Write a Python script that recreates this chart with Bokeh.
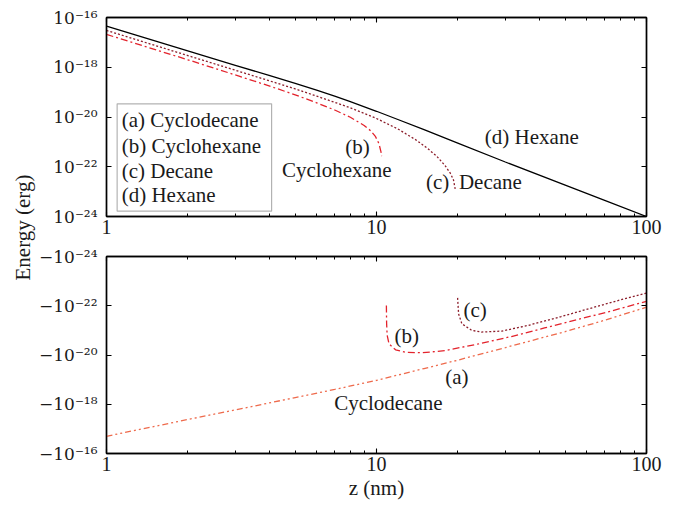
from math import pi
from bokeh.plotting import figure
from bokeh.models import Range1d, FixedTicker, LogAxis, Label, BoxAnnotation
from bokeh.layouts import row, column
from bokeh.embed import file_html
from bokeh.resources import INLINE

# ---------------- data ----------------
# z in nm, energy in erg
hex_z = [1, 2, 3, 4, 5, 6, 7, 8, 10, 12, 15, 20, 30, 50, 70, 100]
hex_E = [4.47e-17, 4.57e-18, 1.20e-18, 4.68e-19, 2.24e-19, 1.20e-19, 6.92e-20,
         4.17e-20, 1.70e-20, 7.94e-21, 3.09e-21, 8.91e-22, 1.55e-22, 1.82e-23,
         4.47e-24, 1.0e-24]

dec_top_z = [1, 2, 3, 4, 5, 6, 7, 8, 9, 10, 12, 14, 15.40, 16.76, 17.94, 18.79,
             19.28, 19.56]
dec_top_E = [3.02e-17, 2.95e-18, 7.59e-19, 2.88e-19, 1.35e-19, 6.92e-20, 3.89e-20,
             2.34e-20, 1.41e-20, 8.71e-21, 3.31e-21, 1.20e-21, 5.62e-22, 2.57e-22,
             1.12e-22, 5.37e-23, 2.95e-23, 1.29e-23]

chx_top_z = [1, 2, 3, 4, 5, 6, 7, 8, 9, 9.51, 9.92, 10.21, 10.39, 10.45]
chx_top_E = [2.09e-17, 2.00e-18, 4.90e-19, 1.78e-19, 7.76e-20, 3.72e-20, 1.91e-20,
             9.77e-21, 4.57e-21, 2.82e-21, 1.62e-21, 8.51e-22, 3.98e-22, 2.69e-22]

# negative energies (bottom panel)
chx_bot_z = [10.88, 10.90, 10.95, 11.13, 11.77, 12.82, 14.76, 17.98, 23.85, 31.6,
             41.9, 55.6, 73.7, 100]
chx_bot_E = [-9.77e-23, -5.01e-22, -1.58e-21, -3.55e-21, -6.17e-21, -7.76e-21,
             -8.13e-21, -6.61e-21, -3.55e-21, -1.78e-21, -7.94e-22, -3.63e-22,
             -1.66e-22, -6.61e-23]

dec_bot_z = [19.97, 20.14, 20.71, 22.53, 24.5, 29.1, 36.4, 48.3, 64.0, 80.2, 100]
dec_bot_E = [-4.79e-23, -2.14e-22, -5.37e-22, -1.00e-21, -1.17e-21, -1.07e-21,
             -6.31e-22, -2.75e-22, -1.15e-22, -5.75e-23, -3.09e-23]

cyd_bot_z = [1, 2, 3, 5, 7, 10, 15, 20, 30, 50, 70, 100]
cyd_bot_E = [-2.00e-17, -4.17e-18, -1.70e-18, -5.37e-19, -2.51e-19, -1.07e-19,
             -3.55e-20, -1.62e-20, -5.01e-21, -1.12e-21, -3.89e-22, -1.15e-22]

legend_labels = ["(a) Cyclodecane", "(b) Cyclohexane", "(c) Decane", "(d) Hexane"]

x_ticks = [1, 10, 100]
x_tick_labels = ["1", "10", "100"]
x_minor = [2, 3, 4, 5, 6, 7, 8, 9, 20, 30, 40, 50, 60, 70, 80, 90]
top_y_ticks = [1e-24, 1e-22, 1e-20, 1e-18, 1e-16]
top_y_labels = ["10\u207b\u00b2\u2074", "10\u207b\u00b2\u00b2", "10\u207b\u00b2\u2070",
                "10\u207b\u00b9\u2078", "10\u207b\u00b9\u2076"]
bot_y_ticks = [1e-24, 1e-22, 1e-20, 1e-18, 1e-16]
bot_y_labels = ["\u2212" + s for s in top_y_labels]

# ---------------- styles ----------------
SERIF = "Liberation Serif"
YTICKFONT = "DejaVu Serif"
TXT = "#1a1a1a"
C_HEX = "black"
C_CHX = "#e3232c"
C_DEC = "#8c1d2a"
C_CYD = "#ee6a4c"
D_CHX = "7 3 2 3"
D_DEC = "2 2"
D_CYD = "6 3 2 3 2 3"
LW = 1.3
FIG_W = 641


def style_axis(ax, font=SERIF, size="20px", tick_labels=True):
    ax.axis_line_color = "black"
    ax.axis_line_width = 1.4
    ax.major_tick_in = 5
    ax.major_tick_out = 0
    ax.minor_tick_in = 3
    ax.minor_tick_out = 0
    ax.major_tick_line_color = "black"
    ax.minor_tick_line_color = "black"
    ax.major_tick_line_width = 1.1
    ax.minor_tick_line_width = 1.0
    if tick_labels:
        ax.major_label_text_font = font
        ax.major_label_text_font_size = size
        ax.major_label_text_color = TXT
    else:
        ax.major_label_text_font_size = "1px"
        ax.major_label_text_color = None
        ax.major_label_standoff = 0


def make_panel(height, y_range, y_ticks, y_labels, border_top, border_bottom):
    p = figure(width=FIG_W, height=height, x_axis_type="log", y_axis_type="log",
               x_range=Range1d(1, 100), y_range=y_range,
               output_backend="svg", toolbar_location=None,
               min_border_left=66, min_border_right=31,
               min_border_top=border_top, min_border_bottom=border_bottom)
    p.grid.visible = False
    p.outline_line_color = "black"
    p.outline_line_width = 1.4
    p.background_fill_color = "white"
    p.border_fill_color = "white"
    xa = p.below[0]
    ya = p.left[0]
    xa.ticker = FixedTicker(ticks=x_ticks, minor_ticks=x_minor)
    xa.major_label_overrides = dict(zip(x_ticks, x_tick_labels))
    ya.ticker = FixedTicker(ticks=y_ticks, minor_ticks=[])
    ya.major_label_overrides = dict(zip(y_ticks, y_labels))
    xa.major_label_standoff = 3
    ya.major_label_standoff = 9
    style_axis(xa)
    style_axis(ya, font=YTICKFONT, size="17px")
    top_ax = LogAxis(ticker=FixedTicker(ticks=x_ticks, minor_ticks=x_minor))
    right_ax = LogAxis(ticker=FixedTicker(ticks=y_ticks, minor_ticks=[]))
    style_axis(top_ax, tick_labels=False)
    style_axis(right_ax, tick_labels=False)
    p.add_layout(top_ax, "above")
    p.add_layout(right_ax, "right")
    return p


def text(p, x, y, s, align="center"):
    p.add_layout(Label(x=x, y=y, text=s, text_align=align, text_baseline="middle",
                       text_font=SERIF, text_font_size="21px", text_color=TXT))


# ---------------- top panel ----------------
top = make_panel(245, Range1d(1e-24, 1e-16), top_y_ticks, top_y_labels, 17, 29)
top.line(hex_z, hex_E, line_color=C_HEX, line_width=LW)
top.line(dec_top_z, dec_top_E, line_color=C_DEC, line_width=LW, line_dash=D_DEC)
top.line(chx_top_z, chx_top_E, line_color=C_CHX, line_width=LW, line_dash=D_CHX)

text(top, 37.6, 1.55e-21, "(d) Hexane")
text(top, 8.51, 6.17e-22, "(b)")
text(top, 7.13, 7.08e-23, "Cyclohexane")
text(top, 16.83, 2.40e-23, "(c)")
text(top, 26.41, 2.40e-23, "Decane")

top.add_layout(BoxAnnotation(left=1.095, right=4.088, top=3.40e-20, bottom=1.63e-24,
                             fill_color="white", fill_alpha=1.0,
                             line_color="black", line_width=1.2))
for lab, ey in zip(legend_labels, [7.24e-21, 6.70e-22, 7.06e-23, 7.45e-24]):
    text(top, 1.138, ey, lab, align="left")

# ---------------- bottom panel ----------------
bot = make_panel(262, Range1d(1e-16, 1e-24), bot_y_ticks, bot_y_labels, 11, 54)
xb = bot.below[0]
xb.axis_label = "z (nm)"
xb.axis_label_text_font = SERIF
xb.axis_label_text_font_size = "21px"
xb.axis_label_text_font_style = "normal"
xb.axis_label_text_color = TXT
xb.axis_label_standoff = 2

bot.line(cyd_bot_z, [-e for e in cyd_bot_E], line_color=C_CYD, line_width=LW, line_dash=D_CYD)
bot.line(chx_bot_z, [-e for e in chx_bot_E], line_color=C_CHX, line_width=LW, line_dash=D_CHX)
bot.line(dec_bot_z, [-e for e in dec_bot_E], line_color=C_DEC, line_width=LW, line_dash=D_DEC)

text(bot, 23.2, 1.55e-22, "(c)")
text(bot, 12.95, 1.62e-21, "(b)")
text(bot, 19.85, 7.94e-20, "(a)")
text(bot, 11.07, 8.71e-19, "Cyclodecane")

# ---------------- shared y label ----------------
lab = figure(width=36, height=507, x_range=Range1d(0, 36), y_range=Range1d(0, 507),
             output_backend="svg", toolbar_location=None,
             min_border_left=0, min_border_right=0, min_border_top=0, min_border_bottom=0)
lab.axis.visible = False
lab.grid.visible = False
lab.outline_line_color = None
lab.add_layout(Label(x=22, y=280, text="Energy (erg)", angle=pi / 2,
                     text_align="center", text_baseline="middle",
                     text_font=SERIF, text_font_size="21px", text_color=TXT))

layout = row(lab, column(top, bot))
open("out.html", "w").write(file_html(layout, INLINE))
